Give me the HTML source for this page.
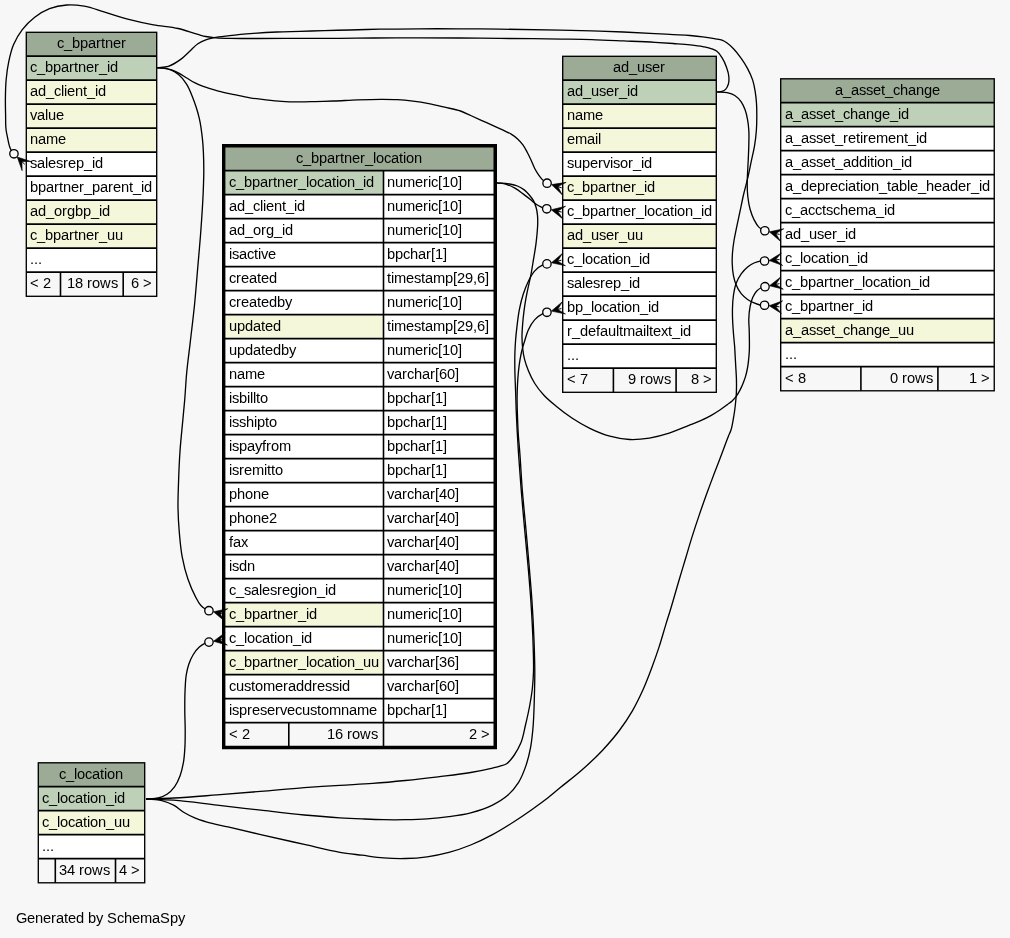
<!DOCTYPE html>
<html><head><meta charset="utf-8"><title>c_bpartner_location</title>
<style>
html,body{margin:0;padding:0;background:#f7f7f7;}
body{width:1010px;height:938px;overflow:hidden;}
svg{display:block;will-change:transform;}
svg text{font-family:"Liberation Sans",sans-serif;font-size:14.67px;fill:#000;white-space:pre;}
</style></head><body>
<svg width="1010" height="938" viewBox="0 0 1010 938">
<rect x="0" y="0" width="1010" height="938" fill="#f7f7f7"/>
<g id="tables">
<rect x="26.30" y="32.30" width="130.40" height="24.00" fill="#9bab96"/>
<rect x="26.30" y="56.30" width="130.40" height="24.00" fill="#bed1b8"/>
<rect x="26.30" y="80.30" width="130.40" height="24.00" fill="#f4f7da"/>
<rect x="26.30" y="104.30" width="130.40" height="24.00" fill="#f4f7da"/>
<rect x="26.30" y="128.30" width="130.40" height="24.00" fill="#f4f7da"/>
<rect x="26.30" y="152.30" width="130.40" height="24.00" fill="#ffffff"/>
<rect x="26.30" y="176.30" width="130.40" height="24.00" fill="#ffffff"/>
<rect x="26.30" y="200.30" width="130.40" height="24.00" fill="#f4f7da"/>
<rect x="26.30" y="224.30" width="130.40" height="24.00" fill="#f4f7da"/>
<rect x="26.30" y="248.30" width="130.40" height="24.00" fill="#ffffff"/>
<rect x="26.30" y="272.30" width="130.40" height="24.00" fill="#f7f7f7"/>
<path d="M26.30 56.10H156.70" stroke="#000" stroke-width="1.6" fill="none"/>
<path d="M26.30 80.10H156.70" stroke="#000" stroke-width="1.6" fill="none"/>
<path d="M26.30 104.10H156.70" stroke="#000" stroke-width="1.6" fill="none"/>
<path d="M26.30 128.10H156.70" stroke="#000" stroke-width="1.6" fill="none"/>
<path d="M26.30 152.10H156.70" stroke="#000" stroke-width="1.6" fill="none"/>
<path d="M26.30 176.10H156.70" stroke="#000" stroke-width="1.6" fill="none"/>
<path d="M26.30 200.10H156.70" stroke="#000" stroke-width="1.6" fill="none"/>
<path d="M26.30 224.10H156.70" stroke="#000" stroke-width="1.6" fill="none"/>
<path d="M26.30 248.10H156.70" stroke="#000" stroke-width="1.6" fill="none"/>
<path d="M26.30 272.10H156.70" stroke="#000" stroke-width="1.6" fill="none"/>
<path d="M60.50 272.30V296.30" stroke="#000" stroke-width="1.6" fill="none"/>
<path d="M123.20 272.30V296.30" stroke="#000" stroke-width="1.6" fill="none"/>
<rect x="26.30" y="32.30" width="130.40" height="264.00" fill="none" stroke="#000" stroke-width="1.35"/>
<text x="57 64 72 80 88 96 101 105 113 121" y="48">c_bpartner</text>
<text x="30 37 45 53 61 69 74 78 86 94 99 107 110" y="72">c_bpartner_id</text>
<text x="30 38 46 54 61 64 67 75 83 87 95 98" y="96">ad_client_id</text>
<text x="30 37 45 48 56" y="120">value</text>
<text x="30 38 46 58" y="144">name</text>
<text x="30 37 45 48 56 63 68 76 84 92 95" y="168">salesrep_id</text>
<text x="30 38 46 54 59 63 71 79 84 92 100 108 113 121 129 133 141 144" y="192">bpartner_parent_id</text>
<text x="30 38 46 54 62 67 75 83 91 99 102" y="216">ad_orgbp_id</text>
<text x="30 37 45 53 61 69 74 78 86 94 99 107 115" y="240">c_bpartner_uu</text>
<text x="30 34 38" y="264">...</text>
<text x="30 39 43" y="288">&lt; 2</text>
<text x="67 75 83 87 92 100 111" y="288">18 rows</text>
<text x="131 139 143" y="288">6 &gt;</text>
<rect x="224.73" y="146.60" width="269.44" height="24.00" fill="#9bab96"/>
<rect x="224.73" y="170.60" width="158.77" height="24.00" fill="#bed1b8"/>
<rect x="383.50" y="170.60" width="110.67" height="24.00" fill="#ffffff"/>
<rect x="224.73" y="194.60" width="158.77" height="24.00" fill="#ffffff"/>
<rect x="383.50" y="194.60" width="110.67" height="24.00" fill="#ffffff"/>
<rect x="224.73" y="218.60" width="158.77" height="24.00" fill="#ffffff"/>
<rect x="383.50" y="218.60" width="110.67" height="24.00" fill="#ffffff"/>
<rect x="224.73" y="242.60" width="158.77" height="24.00" fill="#ffffff"/>
<rect x="383.50" y="242.60" width="110.67" height="24.00" fill="#ffffff"/>
<rect x="224.73" y="266.60" width="158.77" height="24.00" fill="#ffffff"/>
<rect x="383.50" y="266.60" width="110.67" height="24.00" fill="#ffffff"/>
<rect x="224.73" y="290.60" width="158.77" height="24.00" fill="#ffffff"/>
<rect x="383.50" y="290.60" width="110.67" height="24.00" fill="#ffffff"/>
<rect x="224.73" y="314.60" width="158.77" height="24.00" fill="#f4f7da"/>
<rect x="383.50" y="314.60" width="110.67" height="24.00" fill="#ffffff"/>
<rect x="224.73" y="338.60" width="158.77" height="24.00" fill="#ffffff"/>
<rect x="383.50" y="338.60" width="110.67" height="24.00" fill="#ffffff"/>
<rect x="224.73" y="362.60" width="158.77" height="24.00" fill="#ffffff"/>
<rect x="383.50" y="362.60" width="110.67" height="24.00" fill="#ffffff"/>
<rect x="224.73" y="386.60" width="158.77" height="24.00" fill="#ffffff"/>
<rect x="383.50" y="386.60" width="110.67" height="24.00" fill="#ffffff"/>
<rect x="224.73" y="410.60" width="158.77" height="24.00" fill="#ffffff"/>
<rect x="383.50" y="410.60" width="110.67" height="24.00" fill="#ffffff"/>
<rect x="224.73" y="434.60" width="158.77" height="24.00" fill="#ffffff"/>
<rect x="383.50" y="434.60" width="110.67" height="24.00" fill="#ffffff"/>
<rect x="224.73" y="458.60" width="158.77" height="24.00" fill="#ffffff"/>
<rect x="383.50" y="458.60" width="110.67" height="24.00" fill="#ffffff"/>
<rect x="224.73" y="482.60" width="158.77" height="24.00" fill="#ffffff"/>
<rect x="383.50" y="482.60" width="110.67" height="24.00" fill="#ffffff"/>
<rect x="224.73" y="506.60" width="158.77" height="24.00" fill="#ffffff"/>
<rect x="383.50" y="506.60" width="110.67" height="24.00" fill="#ffffff"/>
<rect x="224.73" y="530.60" width="158.77" height="24.00" fill="#ffffff"/>
<rect x="383.50" y="530.60" width="110.67" height="24.00" fill="#ffffff"/>
<rect x="224.73" y="554.60" width="158.77" height="24.00" fill="#ffffff"/>
<rect x="383.50" y="554.60" width="110.67" height="24.00" fill="#ffffff"/>
<rect x="224.73" y="578.60" width="158.77" height="24.00" fill="#ffffff"/>
<rect x="383.50" y="578.60" width="110.67" height="24.00" fill="#ffffff"/>
<rect x="224.73" y="602.60" width="158.77" height="24.00" fill="#f4f7da"/>
<rect x="383.50" y="602.60" width="110.67" height="24.00" fill="#ffffff"/>
<rect x="224.73" y="626.60" width="158.77" height="24.00" fill="#ffffff"/>
<rect x="383.50" y="626.60" width="110.67" height="24.00" fill="#ffffff"/>
<rect x="224.73" y="650.60" width="158.77" height="24.00" fill="#f4f7da"/>
<rect x="383.50" y="650.60" width="110.67" height="24.00" fill="#ffffff"/>
<rect x="224.73" y="674.60" width="158.77" height="24.00" fill="#ffffff"/>
<rect x="383.50" y="674.60" width="110.67" height="24.00" fill="#ffffff"/>
<rect x="224.73" y="698.60" width="158.77" height="24.00" fill="#ffffff"/>
<rect x="383.50" y="698.60" width="110.67" height="24.00" fill="#ffffff"/>
<rect x="224.73" y="722.60" width="269.44" height="24.00" fill="#f7f7f7"/>
<path d="M224.73 170.60H494.17" stroke="#000" stroke-width="1.6" fill="none"/>
<path d="M224.73 194.60H494.17" stroke="#000" stroke-width="1.6" fill="none"/>
<path d="M224.73 218.60H494.17" stroke="#000" stroke-width="1.6" fill="none"/>
<path d="M224.73 242.60H494.17" stroke="#000" stroke-width="1.6" fill="none"/>
<path d="M224.73 266.60H494.17" stroke="#000" stroke-width="1.6" fill="none"/>
<path d="M224.73 290.60H494.17" stroke="#000" stroke-width="1.6" fill="none"/>
<path d="M224.73 314.60H494.17" stroke="#000" stroke-width="1.6" fill="none"/>
<path d="M224.73 338.60H494.17" stroke="#000" stroke-width="1.6" fill="none"/>
<path d="M224.73 362.60H494.17" stroke="#000" stroke-width="1.6" fill="none"/>
<path d="M224.73 386.60H494.17" stroke="#000" stroke-width="1.6" fill="none"/>
<path d="M224.73 410.60H494.17" stroke="#000" stroke-width="1.6" fill="none"/>
<path d="M224.73 434.60H494.17" stroke="#000" stroke-width="1.6" fill="none"/>
<path d="M224.73 458.60H494.17" stroke="#000" stroke-width="1.6" fill="none"/>
<path d="M224.73 482.60H494.17" stroke="#000" stroke-width="1.6" fill="none"/>
<path d="M224.73 506.60H494.17" stroke="#000" stroke-width="1.6" fill="none"/>
<path d="M224.73 530.60H494.17" stroke="#000" stroke-width="1.6" fill="none"/>
<path d="M224.73 554.60H494.17" stroke="#000" stroke-width="1.6" fill="none"/>
<path d="M224.73 578.60H494.17" stroke="#000" stroke-width="1.6" fill="none"/>
<path d="M224.73 602.60H494.17" stroke="#000" stroke-width="1.6" fill="none"/>
<path d="M224.73 626.60H494.17" stroke="#000" stroke-width="1.6" fill="none"/>
<path d="M224.73 650.60H494.17" stroke="#000" stroke-width="1.6" fill="none"/>
<path d="M224.73 674.60H494.17" stroke="#000" stroke-width="1.6" fill="none"/>
<path d="M224.73 698.60H494.17" stroke="#000" stroke-width="1.6" fill="none"/>
<path d="M224.73 722.60H494.17" stroke="#000" stroke-width="1.6" fill="none"/>
<path d="M383.50 170.60V746.60" stroke="#000" stroke-width="1.6" fill="none"/>
<path d="M288.80 722.60V746.60" stroke="#000" stroke-width="1.6" fill="none"/>
<path fill="#000" fill-rule="evenodd" d="M222.0 144.1H497.0V749.3H222.0Z M225.4 147.4H493.5V745.65H225.4Z"/>
<text x="296 303 311 319 327 335 340 344 352 360 365 373 376 384 391 399 403 406 414" y="163">c_bpartner_location</text>
<text x="229 236 244 252 260 268 273 277 285 293 298 306 309 317 324 332 336 339 347 355 363 366" y="187">c_bpartner_location_id</text>
<text x="387 395 403 415 423 428 431 438 442 450 458" y="187">numeric[10]</text>
<text x="229 237 245 253 260 263 266 274 282 286 294 297" y="211">ad_client_id</text>
<text x="387 395 403 415 423 428 431 438 442 450 458" y="211">numeric[10]</text>
<text x="229 237 245 253 261 266 274 282 285" y="235">ad_org_id</text>
<text x="387 395 403 415 423 428 431 438 442 450 458" y="235">numeric[10]</text>
<text x="229 232 239 247 254 258 261 268" y="259">isactive</text>
<text x="387 395 403 410 418 426 431 435 443" y="259">bpchar[1]</text>
<text x="229 236 241 249 257 261 269" y="283">created</text>
<text x="387 391 394 406 414 421 425 433 445 453 457 465 473 477 485" y="283">timestamp[29,6]</text>
<text x="229 236 241 249 257 261 269 277 285" y="307">createdby</text>
<text x="387 395 403 415 423 428 431 438 442 450 458" y="307">numeric[10]</text>
<text x="229 237 245 253 261 265 273" y="331">updated</text>
<text x="387 391 394 406 414 421 425 433 445 453 457 465 473 477 485" y="331">timestamp[29,6]</text>
<text x="229 237 245 253 261 265 273 281 289" y="355">updatedby</text>
<text x="387 395 403 415 423 428 431 438 442 450 458" y="355">numeric[10]</text>
<text x="229 237 245 257" y="379">name</text>
<text x="387 394 402 407 414 422 430 435 439 447 455" y="379">varchar[60]</text>
<text x="229 232 239 247 250 253 256 260" y="403">isbillto</text>
<text x="387 395 403 410 418 426 431 435 443" y="403">bpchar[1]</text>
<text x="229 232 239 246 254 257 265 269" y="427">isshipto</text>
<text x="387 395 403 410 418 426 431 435 443" y="427">bpchar[1]</text>
<text x="229 232 239 247 255 262 266 271 279" y="451">ispayfrom</text>
<text x="387 395 403 410 418 426 431 435 443" y="451">bpchar[1]</text>
<text x="229 232 239 244 252 264 267 271 275" y="475">isremitto</text>
<text x="387 395 403 410 418 426 431 435 443" y="475">bpchar[1]</text>
<text x="229 237 245 253 261" y="499">phone</text>
<text x="387 394 402 407 414 422 430 435 439 447 455" y="499">varchar[40]</text>
<text x="229 237 245 253 261 269" y="523">phone2</text>
<text x="387 394 402 407 414 422 430 435 439 447 455" y="523">varchar[40]</text>
<text x="229 233 241" y="547">fax</text>
<text x="387 394 402 407 414 422 430 435 439 447 455" y="547">varchar[40]</text>
<text x="229 232 239 247" y="571">isdn</text>
<text x="387 394 402 407 414 422 430 435 439 447 455" y="571">varchar[40]</text>
<text x="229 236 244 251 259 262 270 277 282 290 298 301 309 317 325 328" y="595">c_salesregion_id</text>
<text x="387 395 403 415 423 428 431 438 442 450 458" y="595">numeric[10]</text>
<text x="229 236 244 252 260 268 273 277 285 293 298 306 309" y="619">c_bpartner_id</text>
<text x="387 395 403 415 423 428 431 438 442 450 458" y="619">numeric[10]</text>
<text x="229 236 244 247 255 262 270 274 277 285 293 301 304" y="643">c_location_id</text>
<text x="387 395 403 415 423 428 431 438 442 450 458" y="643">numeric[10]</text>
<text x="229 236 244 252 260 268 273 277 285 293 298 306 309 317 324 332 336 339 347 355 363 371" y="667">c_bpartner_location_uu</text>
<text x="387 394 402 407 414 422 430 435 439 447 455" y="667">varchar[36]</text>
<text x="229 236 244 251 255 263 275 283 288 296 304 312 317 325 332 339 342" y="691">customeraddressid</text>
<text x="387 394 402 407 414 422 430 435 439 447 455" y="691">varchar[60]</text>
<text x="229 232 239 247 252 260 267 275 280 287 295 302 310 317 321 329 341 349 357 369" y="715">ispreservecustomname</text>
<text x="387 395 403 410 418 426 431 435 443" y="715">bpchar[1]</text>
<text x="229 238 242" y="739">&lt; 2</text>
<text x="327 335 343 347 352 360 371" y="739">16 rows</text>
<text x="469 477 481" y="739">2 &gt;</text>
<rect x="562.70" y="56.30" width="153.60" height="24.00" fill="#9bab96"/>
<rect x="562.70" y="80.30" width="153.60" height="24.00" fill="#bed1b8"/>
<rect x="562.70" y="104.30" width="153.60" height="24.00" fill="#f4f7da"/>
<rect x="562.70" y="128.30" width="153.60" height="24.00" fill="#f4f7da"/>
<rect x="562.70" y="152.30" width="153.60" height="24.00" fill="#ffffff"/>
<rect x="562.70" y="176.30" width="153.60" height="24.00" fill="#f4f7da"/>
<rect x="562.70" y="200.30" width="153.60" height="24.00" fill="#ffffff"/>
<rect x="562.70" y="224.30" width="153.60" height="24.00" fill="#f4f7da"/>
<rect x="562.70" y="248.30" width="153.60" height="24.00" fill="#ffffff"/>
<rect x="562.70" y="272.30" width="153.60" height="24.00" fill="#ffffff"/>
<rect x="562.70" y="296.30" width="153.60" height="24.00" fill="#ffffff"/>
<rect x="562.70" y="320.30" width="153.60" height="24.00" fill="#ffffff"/>
<rect x="562.70" y="344.30" width="153.60" height="24.00" fill="#ffffff"/>
<rect x="562.70" y="368.30" width="153.60" height="24.00" fill="#f7f7f7"/>
<path d="M562.70 80.10H716.30" stroke="#000" stroke-width="1.6" fill="none"/>
<path d="M562.70 104.10H716.30" stroke="#000" stroke-width="1.6" fill="none"/>
<path d="M562.70 128.10H716.30" stroke="#000" stroke-width="1.6" fill="none"/>
<path d="M562.70 152.10H716.30" stroke="#000" stroke-width="1.6" fill="none"/>
<path d="M562.70 176.10H716.30" stroke="#000" stroke-width="1.6" fill="none"/>
<path d="M562.70 200.10H716.30" stroke="#000" stroke-width="1.6" fill="none"/>
<path d="M562.70 224.10H716.30" stroke="#000" stroke-width="1.6" fill="none"/>
<path d="M562.70 248.10H716.30" stroke="#000" stroke-width="1.6" fill="none"/>
<path d="M562.70 272.10H716.30" stroke="#000" stroke-width="1.6" fill="none"/>
<path d="M562.70 296.10H716.30" stroke="#000" stroke-width="1.6" fill="none"/>
<path d="M562.70 320.10H716.30" stroke="#000" stroke-width="1.6" fill="none"/>
<path d="M562.70 344.10H716.30" stroke="#000" stroke-width="1.6" fill="none"/>
<path d="M562.70 368.10H716.30" stroke="#000" stroke-width="1.6" fill="none"/>
<path d="M613.40 368.30V392.30" stroke="#000" stroke-width="1.6" fill="none"/>
<path d="M676.10 368.30V392.30" stroke="#000" stroke-width="1.6" fill="none"/>
<rect x="562.70" y="56.30" width="153.60" height="336.00" fill="none" stroke="#000" stroke-width="1.35"/>
<text x="613 621 629 637 645 652 660" y="72">ad_user</text>
<text x="567 575 583 591 599 606 614 619 627 630" y="96">ad_user_id</text>
<text x="567 575 583 595" y="120">name</text>
<text x="567 575 587 595 598" y="144">email</text>
<text x="567 574 582 590 598 603 610 613 620 628 633 641 644" y="168">supervisor_id</text>
<text x="567 574 582 590 598 606 611 615 623 631 636 644 647" y="192">c_bpartner_id</text>
<text x="567 574 582 590 598 606 611 615 623 631 636 644 647 655 662 670 674 677 685 693 701 704" y="216">c_bpartner_location_id</text>
<text x="567 575 583 591 599 606 614 619 627 635" y="240">ad_user_uu</text>
<text x="567 574 582 585 593 600 608 612 615 623 631 639 642" y="264">c_location_id</text>
<text x="567 574 582 585 593 600 605 613 621 629 632" y="288">salesrep_id</text>
<text x="567 575 583 591 594 602 609 617 621 624 632 640 648 651" y="312">bp_location_id</text>
<text x="567 572 580 588 596 600 608 616 619 623 635 643 646 649 653 661 668 672 680 683" y="336">r_defaultmailtext_id</text>
<text x="567 571 575" y="360">...</text>
<text x="567 576 580" y="384">&lt; 7</text>
<text x="628 636 640 645 653 664" y="384">9 rows</text>
<text x="691 699 703" y="384">8 &gt;</text>
<rect x="780.70" y="78.80" width="213.55" height="24.00" fill="#9bab96"/>
<rect x="780.70" y="102.80" width="213.55" height="24.00" fill="#bed1b8"/>
<rect x="780.70" y="126.80" width="213.55" height="24.00" fill="#ffffff"/>
<rect x="780.70" y="150.80" width="213.55" height="24.00" fill="#ffffff"/>
<rect x="780.70" y="174.80" width="213.55" height="24.00" fill="#ffffff"/>
<rect x="780.70" y="198.80" width="213.55" height="24.00" fill="#ffffff"/>
<rect x="780.70" y="222.80" width="213.55" height="24.00" fill="#ffffff"/>
<rect x="780.70" y="246.80" width="213.55" height="24.00" fill="#ffffff"/>
<rect x="780.70" y="270.80" width="213.55" height="24.00" fill="#ffffff"/>
<rect x="780.70" y="294.80" width="213.55" height="24.00" fill="#ffffff"/>
<rect x="780.70" y="318.80" width="213.55" height="24.00" fill="#f4f7da"/>
<rect x="780.70" y="342.80" width="213.55" height="24.00" fill="#ffffff"/>
<rect x="780.70" y="366.80" width="213.55" height="24.00" fill="#f7f7f7"/>
<path d="M780.70 102.60H994.25" stroke="#000" stroke-width="1.6" fill="none"/>
<path d="M780.70 126.60H994.25" stroke="#000" stroke-width="1.6" fill="none"/>
<path d="M780.70 150.60H994.25" stroke="#000" stroke-width="1.6" fill="none"/>
<path d="M780.70 174.60H994.25" stroke="#000" stroke-width="1.6" fill="none"/>
<path d="M780.70 198.60H994.25" stroke="#000" stroke-width="1.6" fill="none"/>
<path d="M780.70 222.60H994.25" stroke="#000" stroke-width="1.6" fill="none"/>
<path d="M780.70 246.60H994.25" stroke="#000" stroke-width="1.6" fill="none"/>
<path d="M780.70 270.60H994.25" stroke="#000" stroke-width="1.6" fill="none"/>
<path d="M780.70 294.60H994.25" stroke="#000" stroke-width="1.6" fill="none"/>
<path d="M780.70 318.60H994.25" stroke="#000" stroke-width="1.6" fill="none"/>
<path d="M780.70 342.60H994.25" stroke="#000" stroke-width="1.6" fill="none"/>
<path d="M780.70 366.60H994.25" stroke="#000" stroke-width="1.6" fill="none"/>
<path d="M860.90 366.80V390.80" stroke="#000" stroke-width="1.6" fill="none"/>
<path d="M937.90 366.80V390.80" stroke="#000" stroke-width="1.6" fill="none"/>
<rect x="780.70" y="78.80" width="213.55" height="312.00" fill="none" stroke="#000" stroke-width="1.35"/>
<text x="835 843 851 859 866 873 881 885 893 900 908 916 924 932" y="95">a_asset_change</text>
<text x="785 793 801 809 816 823 831 835 843 850 858 866 874 882 890 898 901" y="119">a_asset_change_id</text>
<text x="785 793 801 809 816 823 831 835 843 848 856 860 863 868 876 888 896 904 908 916 919" y="143">a_asset_retirement_id</text>
<text x="785 793 801 809 816 823 831 835 843 851 859 867 870 874 877 885 893 901 904" y="167">a_asset_addition_id</text>
<text x="785 793 801 809 817 825 830 838 845 848 856 860 863 871 879 887 891 899 907 910 918 926 934 942 950 958 966 971 979 982" y="191">a_depreciation_table_header_id</text>
<text x="785 792 800 808 815 822 826 833 840 848 856 868 876 884 887" y="215">c_acctschema_id</text>
<text x="785 793 801 809 817 824 832 837 845 848" y="239">ad_user_id</text>
<text x="785 792 800 803 811 818 826 830 833 841 849 857 860" y="263">c_location_id</text>
<text x="785 792 800 808 816 824 829 833 841 849 854 862 865 873 880 888 892 895 903 911 919 922" y="287">c_bpartner_location_id</text>
<text x="785 792 800 808 816 824 829 833 841 849 854 862 865" y="311">c_bpartner_id</text>
<text x="785 793 801 809 816 823 831 835 843 850 858 866 874 882 890 898 906" y="335">a_asset_change_uu</text>
<text x="785 789 793" y="359">...</text>
<text x="785 794 798" y="383">&lt; 8</text>
<text x="890 898 902 907 915 926" y="383">0 rows</text>
<text x="969 977 981" y="383">1 &gt;</text>
<rect x="38.30" y="762.80" width="106.40" height="24.00" fill="#9bab96"/>
<rect x="38.30" y="786.80" width="106.40" height="24.00" fill="#bed1b8"/>
<rect x="38.30" y="810.80" width="106.40" height="24.00" fill="#f4f7da"/>
<rect x="38.30" y="834.80" width="106.40" height="24.00" fill="#ffffff"/>
<rect x="38.30" y="858.80" width="106.40" height="24.00" fill="#f7f7f7"/>
<path d="M38.30 786.60H144.70" stroke="#000" stroke-width="1.6" fill="none"/>
<path d="M38.30 810.60H144.70" stroke="#000" stroke-width="1.6" fill="none"/>
<path d="M38.30 834.60H144.70" stroke="#000" stroke-width="1.6" fill="none"/>
<path d="M38.30 858.60H144.70" stroke="#000" stroke-width="1.6" fill="none"/>
<path d="M55.30 858.80V882.80" stroke="#000" stroke-width="1.6" fill="none"/>
<path d="M115.50 858.80V882.80" stroke="#000" stroke-width="1.6" fill="none"/>
<rect x="38.30" y="762.80" width="106.40" height="120.00" fill="none" stroke="#000" stroke-width="1.35"/>
<text x="59 66 74 77 85 92 100 104 107 115" y="779">c_location</text>
<text x="42 49 57 60 68 75 83 87 90 98 106 114 117" y="803">c_location_id</text>
<text x="42 49 57 60 68 75 83 87 90 98 106 114 122" y="827">c_location_uu</text>
<text x="42 46 50" y="851">...</text>
<text x="59 67 75 79 84 92 103" y="875">34 rows</text>
<text x="119 127 131" y="875">4 &gt;</text>
<text x="16 27 35 43 51 56 64 68 76 84 88 96 103 107 117 124 132 140 152 160 170 178" y="923">Generated by SchemaSpy</text>
</g>
<g id="edges">
<path d="M717.20 92.00C718.80 91.80 720.51 91.93 722.00 91.40C723.36 90.91 724.79 90.11 725.80 89.10C727.10 87.80 727.86 85.79 728.40 84.00C729.13 81.59 729.02 78.83 728.80 76.30C728.54 73.25 727.52 70.21 726.50 67.30C725.33 63.98 723.90 60.65 722.00 57.70C720.54 55.42 719.04 52.88 716.90 51.30C715.39 50.19 713.48 49.49 711.70 48.80C708.86 47.70 705.79 47.21 702.80 46.60C698.58 45.75 694.28 45.28 690.00 44.80C684.45 44.17 678.87 43.90 673.30 43.50C667.20 43.06 661.10 42.65 655.00 42.30C644.61 41.70 634.20 41.34 623.80 40.90C613.10 40.44 602.40 39.91 591.70 39.60C581.77 39.31 571.83 39.21 561.90 39.05C541.27 38.72 520.63 38.61 500.00 38.40C486.27 38.26 472.53 38.09 458.80 38.00C445.60 37.91 432.40 37.86 419.20 37.85C404.07 37.84 388.93 37.89 373.80 38.00C362.53 38.08 351.27 38.31 340.00 38.35C330.63 38.38 321.27 38.30 311.90 38.30C292.40 38.30 272.90 38.54 253.40 38.50C245.47 38.48 237.53 38.62 229.60 38.40C224.33 38.25 219.03 38.30 213.80 37.70C211.12 37.39 208.44 37.05 205.80 36.50C203.14 35.95 200.53 35.12 197.90 34.40C191.29 32.58 184.86 30.04 178.20 28.50C170.11 26.63 161.68 26.32 153.50 24.80C145.18 23.26 136.89 21.43 128.70 19.30C120.39 17.14 112.25 14.32 104.00 11.90C97.41 9.97 90.94 7.33 84.20 6.20C78.50 5.25 72.54 4.60 66.80 5.00C60.97 5.41 54.93 6.59 49.50 8.70C44.25 10.74 39.19 13.86 34.70 17.30C30.10 20.83 25.84 25.11 22.30 29.70C18.82 34.22 15.85 39.36 13.60 44.60C11.26 50.07 9.94 56.05 8.70 61.90C7.49 67.59 6.75 73.41 6.20 79.20C5.57 85.77 5.47 92.40 5.40 99.00C5.34 104.33 5.48 109.67 5.60 115.00C5.72 120.00 5.43 125.06 6.10 130.00C6.47 132.78 7.12 135.54 7.70 138.30C8.29 141.08 8.66 143.93 9.60 146.60C9.98 147.68 10.36 148.79 10.90 149.80C11.69 151.26 12.93 152.47 13.94 153.80" fill="none" stroke="#000" stroke-width="1.33"/>
<path d="M157.30 67.80C159.20 67.93 161.12 67.94 163.00 68.20C165.64 68.56 168.34 69.04 170.80 70.00C173.66 71.12 176.43 72.86 178.80 74.80C181.95 77.37 184.51 80.86 186.70 84.30C189.03 87.95 190.55 92.16 192.20 96.20C193.68 99.84 195.01 103.56 196.20 107.30C197.41 111.09 198.51 114.93 199.40 118.80C200.89 125.29 201.67 131.97 202.40 138.60C203.54 149.00 203.76 159.53 203.80 170.00C203.83 178.16 203.44 186.34 203.10 194.50C202.58 206.78 201.70 219.04 200.80 231.30C199.90 243.61 198.75 255.90 197.70 268.20C196.65 280.47 195.73 292.75 194.50 305.00C193.27 317.28 191.71 329.53 190.30 341.80C189.08 352.43 187.58 363.04 186.60 373.70C185.80 382.45 185.44 391.24 184.70 400.00C184.16 406.47 183.50 412.93 182.90 419.40C181.92 430.03 180.73 440.65 180.00 451.30C179.27 461.95 178.84 472.63 178.50 483.30C178.24 491.46 177.87 499.64 178.00 507.80C178.13 515.97 178.61 524.16 179.30 532.30C180.00 540.52 180.66 548.81 182.20 556.90C183.62 564.36 185.40 571.84 187.90 579.00C189.94 584.84 192.28 590.65 195.20 596.10C196.87 599.22 198.28 602.67 200.70 605.20C201.94 606.50 203.37 607.73 204.90 608.70C206.16 609.50 207.60 610.03 208.95 610.70" fill="none" stroke="#000" stroke-width="1.33"/>
<path d="M146.00 799.00C150.10 798.67 154.38 799.06 158.30 798.00C161.30 797.19 164.41 796.00 167.00 794.30C169.98 792.35 172.58 789.49 174.70 786.60C177.06 783.37 178.68 779.47 180.10 775.70C181.66 771.54 182.61 767.09 183.40 762.70C184.31 757.67 184.59 752.51 184.90 747.40C185.25 741.61 185.21 735.80 185.20 730.00C185.19 723.97 184.84 717.93 184.80 711.90C184.75 704.47 184.71 697.02 185.10 689.60C185.37 684.59 185.45 679.53 186.30 674.60C186.91 671.10 187.63 667.55 188.80 664.20C189.97 660.85 191.42 657.50 193.30 654.50C194.99 651.81 196.91 649.08 199.30 647.00C200.95 645.57 202.79 644.16 204.80 643.30C206.11 642.74 207.57 642.50 208.96 642.10" fill="none" stroke="#000" stroke-width="1.33"/>
<path d="M157.30 67.80C159.20 67.90 161.11 67.89 163.00 68.10C165.63 68.39 168.29 68.82 170.80 69.60C173.57 70.46 176.21 71.84 178.80 73.20C181.52 74.63 184.06 76.41 186.70 78.00C189.33 79.58 191.88 81.30 194.60 82.70C197.16 84.01 199.83 85.14 202.50 86.20C207.65 88.24 213.04 89.69 218.40 91.10C223.61 92.47 228.92 93.48 234.20 94.60C239.46 95.71 244.70 96.93 250.00 97.80C255.27 98.66 260.59 99.21 265.90 99.80C271.16 100.38 276.42 100.95 281.70 101.30C286.99 101.65 292.30 101.84 297.60 101.90C303.40 101.97 309.20 101.74 315.00 101.60C321.27 101.45 327.53 101.24 333.80 101.00C341.70 100.70 349.60 100.17 357.50 99.90C365.43 99.63 373.37 99.38 381.30 99.40C386.57 99.42 391.84 99.40 397.10 99.70C402.41 100.00 407.72 100.53 413.00 101.20C418.29 101.87 423.56 102.71 428.80 103.70C434.13 104.71 439.41 105.98 444.70 107.20C449.98 108.42 455.42 109.19 460.50 111.00C463.99 112.24 467.31 113.98 470.70 115.50C474.24 117.08 477.76 118.71 481.30 120.30C484.86 121.91 488.44 123.49 492.00 125.10C495.54 126.69 499.09 128.24 502.60 129.90C505.48 131.26 508.50 132.42 511.20 134.10C513.45 135.50 515.64 137.11 517.60 138.90C519.54 140.68 521.34 142.68 522.90 144.80C524.58 147.09 525.85 149.69 527.20 152.20C528.52 154.66 529.72 157.17 530.90 159.70C532.20 162.50 533.18 165.46 534.60 168.20C535.74 170.40 537.00 172.56 538.40 174.60C539.54 176.26 540.69 177.98 542.10 179.40C543.56 180.87 545.41 181.95 547.07 183.23" fill="none" stroke="#000" stroke-width="1.33"/>
<path d="M496.90 182.80C500.03 183.30 503.28 183.41 506.30 184.30C509.28 185.18 512.18 186.58 514.90 188.10C517.91 189.79 520.62 192.03 523.40 194.10C526.01 196.04 528.57 198.06 531.10 200.10C532.81 201.48 534.38 203.08 536.20 204.30C537.53 205.20 538.95 206.01 540.40 206.70C541.25 207.10 542.12 207.49 543.00 207.80C544.22 208.23 545.50 208.47 546.75 208.80" fill="none" stroke="#000" stroke-width="1.33"/>
<path d="M146.00 799.00C155.20 798.67 164.41 798.46 173.60 798.00C188.12 797.28 202.60 796.00 217.10 794.90C231.64 793.80 246.17 792.60 260.70 791.40C275.24 790.20 289.76 788.79 304.30 787.70C316.19 786.81 328.10 786.04 340.00 785.30C350.90 784.62 361.81 784.20 372.70 783.40C383.58 782.60 394.45 781.60 405.30 780.50C416.21 779.40 427.11 778.13 438.00 776.80C448.91 775.47 459.87 774.38 470.70 772.50C478.00 771.23 485.29 769.83 492.50 768.10C495.01 767.50 497.54 766.96 500.00 766.20C502.23 765.51 504.69 765.07 506.60 763.80C508.08 762.82 509.29 761.35 510.50 760.00C511.89 758.44 513.12 756.72 514.30 755.00C516.86 751.28 519.07 747.24 520.80 743.10C523.19 737.39 524.05 731.06 525.50 725.00C527.16 718.04 528.75 711.05 530.00 704.00C530.94 698.69 531.82 693.36 532.40 688.00C532.98 682.69 533.31 677.34 533.50 672.00C533.79 664.01 533.40 656.00 533.20 648.00C532.80 631.99 531.89 615.98 530.80 600.00C530.12 589.99 529.25 580.00 528.40 570.00C527.26 556.66 525.90 543.34 524.70 530.00C523.50 516.67 522.27 503.34 521.20 490.00C520.13 476.67 519.15 463.34 518.30 450.00C517.87 443.20 517.46 436.40 517.10 429.60C516.76 423.20 516.45 416.80 516.20 410.40C515.95 404.00 515.82 397.60 515.60 391.20C515.38 384.80 515.02 378.40 514.90 372.00C514.78 365.60 514.69 359.19 514.90 352.80C515.04 348.53 515.27 344.26 515.60 340.00C515.93 335.73 516.40 331.46 516.90 327.20C517.60 321.22 518.22 315.20 519.40 309.30C520.43 304.15 521.65 298.99 523.30 294.00C524.74 289.65 526.31 285.27 528.40 281.20C530.24 277.62 532.05 273.77 534.80 270.90C536.95 268.65 539.53 266.41 542.40 265.20C543.83 264.60 545.42 264.33 546.93 263.90" fill="none" stroke="#000" stroke-width="1.33"/>
<path d="M146.00 799.00C155.20 799.37 164.42 799.47 173.60 800.10C188.15 801.10 202.60 803.42 217.10 805.10C231.64 806.79 246.16 808.55 260.70 810.20C275.23 811.85 289.74 813.65 304.30 815.00C316.18 816.10 328.09 817.07 340.00 817.80C347.26 818.24 354.53 818.58 361.80 818.90C369.06 819.22 376.33 819.57 383.60 819.70C390.83 819.83 398.07 819.83 405.30 819.70C412.57 819.57 419.85 819.40 427.10 818.90C434.38 818.40 441.67 817.71 448.90 816.70C456.21 815.68 463.58 814.67 470.70 812.80C478.13 810.85 485.68 808.57 492.50 805.10C497.84 802.39 503.25 799.26 507.70 795.30C511.88 791.58 515.61 787.03 518.60 782.30C521.94 777.00 524.17 770.87 526.20 764.90C528.13 759.22 529.49 753.30 530.60 747.40C531.67 741.66 532.22 735.81 532.80 730.00C533.92 718.72 534.07 707.34 534.40 696.00C534.63 688.00 534.81 680.00 534.80 672.00C534.79 661.33 534.40 650.66 534.00 640.00C533.50 626.66 532.81 613.32 531.90 600.00C531.22 589.99 530.33 580.00 529.50 570.00C528.39 556.66 527.20 543.33 526.00 530.00C524.80 516.66 523.37 503.35 522.30 490.00C521.23 476.68 520.68 463.32 519.60 450.00C519.22 445.33 518.72 440.67 518.40 436.00C517.96 429.61 517.72 423.20 517.50 416.80C517.28 410.40 517.03 404.00 517.10 397.60C517.14 393.33 517.28 389.06 517.50 384.80C517.72 380.53 517.97 376.25 518.40 372.00C518.83 367.72 519.36 363.44 520.10 359.20C520.76 355.44 521.51 351.68 522.50 348.00C523.18 345.48 524.01 342.99 524.80 340.50C525.94 336.91 526.81 333.18 528.40 329.80C530.09 326.19 532.07 322.45 534.80 319.60C536.98 317.32 539.62 315.14 542.50 313.80C543.90 313.15 545.45 312.77 546.93 312.26" fill="none" stroke="#000" stroke-width="1.33"/>
<path d="M717.20 92.00C720.50 92.23 723.90 91.98 727.10 92.70C729.74 93.30 732.54 94.09 734.80 95.50C737.30 97.05 739.48 99.47 741.20 101.90C742.84 104.20 743.98 106.94 745.00 109.60C746.24 112.86 746.96 116.36 747.60 119.80C748.22 123.16 748.56 126.59 748.80 130.00C749.16 135.11 748.90 140.27 748.80 145.40C748.70 150.50 748.44 155.60 748.20 160.70C748.02 164.53 747.77 168.37 747.60 172.20C747.43 176.03 747.19 179.87 747.20 183.70C747.22 187.97 747.32 192.26 747.80 196.50C748.28 200.80 748.92 205.15 750.10 209.30C751.10 212.82 752.33 216.35 754.00 219.60C755.26 222.04 756.48 224.66 758.40 226.60C759.19 227.40 760.07 228.16 761.00 228.80C762.18 229.61 763.57 230.10 764.85 230.75" fill="none" stroke="#000" stroke-width="1.33"/>
<path d="M146.00 799.00C151.57 799.60 157.34 799.34 162.70 800.80C166.44 801.82 170.17 803.28 173.60 805.10C177.50 807.17 180.69 810.54 184.50 812.80C187.95 814.85 191.59 816.66 195.30 818.20C198.84 819.67 202.53 820.79 206.20 821.90C213.33 824.05 220.74 825.22 228.00 826.90C238.91 829.43 249.79 832.08 260.70 834.60C275.21 837.95 289.76 841.16 304.30 844.40C316.20 847.05 327.99 850.31 340.00 852.30C347.23 853.50 354.53 854.27 361.80 855.20C369.06 856.13 376.31 857.35 383.60 857.90C390.81 858.44 398.08 858.68 405.30 858.50C412.58 858.32 419.89 857.80 427.10 856.80C434.43 855.78 441.75 854.32 448.90 852.40C456.30 850.42 463.60 847.88 470.70 845.00C478.15 841.98 485.41 838.40 492.50 834.60C499.96 830.60 507.17 826.08 514.30 821.50C520.19 817.71 525.97 813.74 531.70 809.70C536.52 806.31 541.34 802.90 546.00 799.30C550.78 795.61 555.32 791.62 560.00 787.80C567.08 782.01 574.43 776.53 581.30 770.50C588.67 764.04 595.90 757.35 602.60 750.20C608.62 743.77 614.45 737.07 619.70 730.00C624.27 723.85 628.55 717.42 632.40 710.80C636.38 703.94 639.85 696.74 643.10 689.50C646.23 682.53 648.92 675.36 651.60 668.20C654.24 661.15 656.77 654.05 659.10 646.90C661.40 639.85 663.33 632.69 665.50 625.60C667.24 619.89 669.09 614.22 670.80 608.50C671.65 605.67 672.47 602.83 673.30 600.00C675.35 593.00 677.33 585.99 679.40 579.00C681.50 571.89 683.67 564.80 685.80 557.70C687.93 550.60 689.98 543.47 692.20 536.40C694.44 529.27 696.79 522.17 699.20 515.10C701.62 507.97 704.14 500.88 706.70 493.80C709.27 486.68 711.92 479.58 714.60 472.50C717.03 466.09 719.57 459.71 722.00 453.30C724.16 447.61 726.11 441.84 728.40 436.20C729.24 434.12 730.29 432.12 731.00 430.00C732.12 426.66 732.56 423.08 733.20 419.60C733.73 416.74 734.20 413.88 734.60 411.00C735.00 408.18 735.32 405.34 735.60 402.50C735.88 399.67 736.15 396.84 736.30 394.00C736.45 391.14 736.49 388.27 736.50 385.40C736.51 382.93 736.48 380.47 736.40 378.00C736.29 374.43 736.00 370.87 735.80 367.30C735.60 363.77 735.40 360.23 735.20 356.70C735.00 353.13 734.88 349.56 734.60 346.00C734.40 343.50 734.12 341.00 733.90 338.50C733.65 335.67 733.40 332.84 733.20 330.00C732.96 326.67 732.72 323.34 732.60 320.00C732.45 315.94 732.36 311.86 732.50 307.80C732.64 303.53 732.85 299.22 733.50 295.00C734.10 291.13 734.72 287.14 736.10 283.50C737.37 280.14 739.10 276.82 741.20 273.90C743.03 271.35 745.15 268.85 747.60 266.90C749.54 265.36 751.73 264.00 754.00 263.00C755.93 262.15 758.01 261.39 760.10 261.10C761.57 260.90 763.09 261.03 764.58 261.00" fill="none" stroke="#000" stroke-width="1.33"/>
<path d="M496.90 182.80C500.90 183.17 504.96 183.19 508.90 183.90C511.76 184.42 514.73 184.90 517.40 186.00C519.79 186.98 522.15 188.31 524.20 189.90C526.08 191.36 527.74 193.18 529.30 195.00C530.88 196.84 532.45 198.78 533.60 200.90C534.76 203.04 535.55 205.44 536.20 207.80C536.88 210.27 537.24 212.85 537.50 215.40C537.79 218.25 537.76 221.14 537.70 224.00C537.64 226.67 537.41 229.34 537.20 232.00C536.91 235.61 536.54 239.21 536.10 242.80C535.42 248.36 534.40 253.87 533.50 259.40C532.66 264.54 531.90 269.69 530.90 274.80C530.14 278.65 529.21 282.46 528.40 286.30C527.50 290.56 526.55 294.81 525.80 299.10C525.05 303.35 524.43 307.62 523.90 311.90C523.37 316.15 522.92 320.42 522.60 324.70C522.28 328.96 521.95 333.23 522.00 337.50C522.04 340.90 522.23 344.32 522.60 347.70C523.02 351.56 523.57 355.44 524.50 359.20C525.47 363.12 526.87 366.96 528.40 370.70C530.21 375.10 532.28 379.48 534.80 383.50C537.36 387.59 540.44 391.44 543.70 395.00C547.56 399.21 552.08 402.86 556.50 406.50C561.44 410.57 566.56 414.47 571.90 418.00C577.63 421.79 583.61 425.32 589.80 428.30C596.23 431.39 602.93 434.22 609.80 436.10C616.23 437.86 622.96 439.17 629.60 439.50C636.16 439.82 642.89 439.12 649.40 438.10C656.09 437.05 662.74 435.26 669.20 433.20C676.30 430.94 683.07 427.68 690.00 424.90C693.57 423.47 697.20 422.17 700.70 420.60C704.30 418.98 707.86 417.23 711.30 415.30C714.23 413.65 717.11 411.88 719.90 410.00C722.43 408.29 724.86 406.44 727.30 404.60C728.91 403.38 730.62 402.26 732.10 400.90C733.67 399.45 735.15 397.83 736.40 396.10C737.38 394.75 738.18 393.26 739.00 391.80C739.77 390.42 740.52 389.02 741.20 387.60C742.04 385.84 742.79 384.02 743.50 382.20C744.18 380.45 744.85 378.69 745.40 376.90C746.05 374.80 746.55 372.65 747.00 370.50C747.45 368.38 747.80 366.24 748.10 364.10C748.35 362.34 748.52 360.57 748.70 358.80C748.95 356.30 749.17 353.80 749.30 351.30C749.48 347.77 749.42 344.23 749.40 340.70C749.38 337.13 749.30 333.57 749.20 330.00C749.10 326.43 748.71 322.86 748.80 319.30C748.91 315.02 749.22 310.68 750.10 306.50C750.73 303.49 751.44 300.40 752.70 297.60C753.71 295.36 754.82 292.96 756.50 291.20C757.69 289.95 759.15 288.77 760.70 288.00C762.02 287.35 763.57 287.13 765.00 286.70" fill="none" stroke="#000" stroke-width="1.33"/>
<path d="M157.30 67.80C160.97 67.30 164.82 67.37 168.30 66.30C172.74 64.93 176.91 62.17 180.70 59.40C184.07 56.94 186.89 53.72 190.00 50.90C192.62 48.52 194.98 45.75 197.90 43.80C200.33 42.18 203.05 40.83 205.80 39.80C208.37 38.84 211.11 38.28 213.80 37.70C218.98 36.57 224.32 36.22 229.60 35.60C237.51 34.68 245.46 34.00 253.40 33.40C261.29 32.80 269.19 32.33 277.10 32.00C284.73 31.68 292.37 31.63 300.00 31.40C308.00 31.16 316.00 30.83 324.00 30.60C332.67 30.35 341.33 30.22 350.00 30.00C359.87 29.75 369.73 29.40 379.60 29.20C392.80 28.94 406.00 28.87 419.20 28.80C432.40 28.73 445.60 28.75 458.80 28.80C472.53 28.86 486.27 29.00 500.00 29.15C520.00 29.37 540.00 29.64 560.00 30.05C570.57 30.27 581.14 30.48 591.70 30.80C602.27 31.13 612.84 31.53 623.40 32.00C633.94 32.47 644.47 33.04 655.00 33.60C661.10 33.92 667.20 34.27 673.30 34.60C678.87 34.90 684.44 35.05 690.00 35.50C694.27 35.85 698.55 36.25 702.80 36.80C707.08 37.35 711.37 37.96 715.60 38.80C717.74 39.22 719.98 39.42 722.00 40.20C723.79 40.89 725.51 41.92 727.10 43.00C729.47 44.61 731.50 46.74 733.50 48.80C736.34 51.74 738.83 55.06 741.20 58.40C743.52 61.67 745.71 65.07 747.60 68.60C749.57 72.29 751.42 76.13 752.70 80.10C753.90 83.81 754.57 87.73 755.20 91.60C755.83 95.43 756.23 99.32 756.50 103.20C756.76 107.02 756.79 110.87 756.80 114.70C756.82 119.80 756.76 124.92 756.40 130.00C756.03 135.15 755.43 140.30 754.60 145.40C753.77 150.54 752.47 155.60 751.40 160.70C750.14 166.67 748.99 172.66 747.60 178.60C746.39 183.75 744.91 188.85 743.70 194.00C742.31 199.94 741.17 205.93 739.90 211.90C738.63 217.87 737.31 223.82 736.10 229.80C735.41 233.20 734.66 236.58 734.10 240.00C733.40 244.24 732.81 248.52 732.50 252.80C732.26 256.19 732.10 259.61 732.20 263.00C732.32 267.28 732.63 271.62 733.50 275.80C734.13 278.84 734.91 281.94 736.10 284.80C737.41 287.93 739.05 291.10 741.20 293.70C743.01 295.89 745.24 297.88 747.60 299.50C749.58 300.86 751.79 301.95 754.00 302.90C755.97 303.75 758.00 304.64 760.10 305.00C761.56 305.25 763.09 305.17 764.58 305.25" fill="none" stroke="#000" stroke-width="1.33"/>
</g>
<g id="arrows">
<circle cx="13.94" cy="153.80" r="4.2" fill="#f7f7f7" stroke="#000" stroke-width="1.33"/>
<path d="M17.24 157.01L31.06 161.51L21.92 161.55L22.14 170.69Z" fill="#000" stroke="#000" stroke-width="0.6" stroke-linejoin="miter" stroke-miterlimit="10"/>
<path d="M21.92 161.55L24.73 164.28" stroke="#000" stroke-width="1" fill="none"/>
<circle cx="208.95" cy="610.70" r="4.2" fill="#f7f7f7" stroke="#000" stroke-width="1.33"/>
<path d="M213.42 611.79L227.72 608.64L219.81 613.34L224.68 621.16Z" fill="#000" stroke="#000" stroke-width="0.6" stroke-linejoin="miter" stroke-miterlimit="10"/>
<path d="M219.81 613.34L223.64 614.28" stroke="#000" stroke-width="1" fill="none"/>
<circle cx="208.96" cy="642.10" r="4.2" fill="#f7f7f7" stroke="#000" stroke-width="1.33"/>
<path d="M213.48 641.26L225.04 632.67L219.84 640.08L227.36 645.13Z" fill="#000" stroke="#000" stroke-width="0.6" stroke-linejoin="miter" stroke-miterlimit="10"/>
<path d="M219.84 640.08L223.66 639.37" stroke="#000" stroke-width="1" fill="none"/>
<circle cx="547.07" cy="183.23" r="4.2" fill="#f7f7f7" stroke="#000" stroke-width="1.33"/>
<path d="M551.46 184.61L566.16 182.36L557.83 186.60L562.24 194.84Z" fill="#000" stroke="#000" stroke-width="0.6" stroke-linejoin="miter" stroke-miterlimit="10"/>
<path d="M557.83 186.60L561.65 187.80" stroke="#000" stroke-width="1" fill="none"/>
<circle cx="546.75" cy="208.80" r="4.2" fill="#f7f7f7" stroke="#000" stroke-width="1.33"/>
<path d="M551.24 209.78L565.58 206.25L557.72 211.19L562.82 218.95Z" fill="#000" stroke="#000" stroke-width="0.6" stroke-linejoin="miter" stroke-miterlimit="10"/>
<path d="M557.72 211.19L561.61 212.04" stroke="#000" stroke-width="1" fill="none"/>
<circle cx="546.93" cy="263.90" r="4.2" fill="#f7f7f7" stroke="#000" stroke-width="1.33"/>
<path d="M551.39 262.77L562.35 253.47L557.64 261.19L565.45 265.73Z" fill="#000" stroke="#000" stroke-width="0.6" stroke-linejoin="miter" stroke-miterlimit="10"/>
<path d="M557.64 261.19L561.40 260.23" stroke="#000" stroke-width="1" fill="none"/>
<circle cx="546.93" cy="312.26" r="4.2" fill="#f7f7f7" stroke="#000" stroke-width="1.33"/>
<path d="M551.39 311.12L562.32 301.77L557.64 309.51L565.48 314.03Z" fill="#000" stroke="#000" stroke-width="0.6" stroke-linejoin="miter" stroke-miterlimit="10"/>
<path d="M557.64 309.51L561.40 308.54" stroke="#000" stroke-width="1" fill="none"/>
<circle cx="764.85" cy="230.75" r="4.2" fill="#f7f7f7" stroke="#000" stroke-width="1.33"/>
<path d="M769.31 231.87L783.78 228.78L775.76 233.48L780.62 241.42Z" fill="#000" stroke="#000" stroke-width="0.6" stroke-linejoin="miter" stroke-miterlimit="10"/>
<path d="M775.76 233.48L779.62 234.45" stroke="#000" stroke-width="1" fill="none"/>
<circle cx="764.58" cy="261.00" r="4.2" fill="#f7f7f7" stroke="#000" stroke-width="1.33"/>
<path d="M769.16 260.53L781.35 252.91L775.58 259.86L782.65 265.49Z" fill="#000" stroke="#000" stroke-width="0.6" stroke-linejoin="miter" stroke-miterlimit="10"/>
<path d="M775.58 259.86L779.43 259.47" stroke="#000" stroke-width="1" fill="none"/>
<circle cx="765.00" cy="286.70" r="4.2" fill="#f7f7f7" stroke="#000" stroke-width="1.33"/>
<path d="M769.50 285.75L780.70 276.98L775.75 284.42L783.30 289.22Z" fill="#000" stroke="#000" stroke-width="0.6" stroke-linejoin="miter" stroke-miterlimit="10"/>
<path d="M775.75 284.42L779.50 283.63" stroke="#000" stroke-width="1" fill="none"/>
<circle cx="764.58" cy="305.25" r="4.2" fill="#f7f7f7" stroke="#000" stroke-width="1.33"/>
<path d="M769.15 305.74L782.67 300.81L775.58 306.42L781.33 313.39Z" fill="#000" stroke="#000" stroke-width="0.6" stroke-linejoin="miter" stroke-miterlimit="10"/>
<path d="M775.58 306.42L779.43 306.83" stroke="#000" stroke-width="1" fill="none"/>
</g>
</svg>
</body></html>
